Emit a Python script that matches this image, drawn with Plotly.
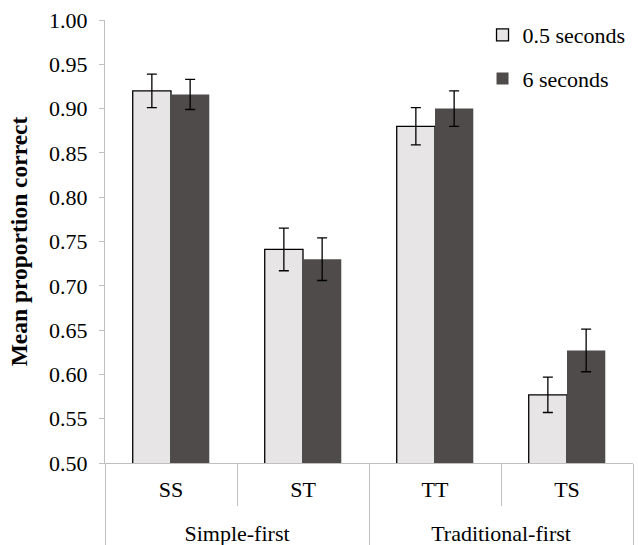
import plotly.graph_objects as go

groups = ["Simple-first", "Simple-first", "Traditional-first", "Traditional-first"]
conditions = ["SS", "ST", "TT", "TS"]
short_vals = [0.920, 0.741, 0.880, 0.577]
short_err = [0.019, 0.024, 0.021, 0.020]
long_vals = [0.916, 0.730, 0.900, 0.627]
long_err = [0.017, 0.024, 0.020, 0.024]
series_names = ["0.5 seconds", "6 seconds"]

FONT = "Liberation Serif"
GRAY = "#BFBFBF"

# invisible tiny second line under each condition label adds vertical room
# between the condition row and the group row of the multicategory axis
cond_labels = [c + "<br><span style='font-size:1px'>\u00a0</span>" for c in conditions]

fig = go.Figure()
fig.add_trace(go.Bar(
    x=[groups, cond_labels], y=short_vals, name=series_names[0],
    marker=dict(color="#E7E5E6", line=dict(color="black", width=1.3)),
    error_y=dict(type="data", array=short_err, color="black", thickness=1.3, width=5),
    legendgroup="a",
))
fig.add_trace(go.Bar(
    x=[groups, cond_labels], y=long_vals, name=series_names[1],
    marker=dict(color="#4F4B4B", line=dict(color="#4F4B4B", width=0)),
    error_y=dict(type="data", array=long_err, color="black", thickness=1.3, width=5),
    legendgroup="b",
))

fig.update_layout(
    template="none",
    width=638, height=545,
    margin=dict(l=105, r=5, t=19.5, b=82, pad=0),
    paper_bgcolor="white", plot_bgcolor="white",
    font=dict(family=FONT, size=22, color="black"),
    barmode="group", bargap=0.42, bargroupgap=0,
    showlegend=True,
    legend=dict(x=0.715, y=1.0135, xanchor="left", yanchor="top",
                bgcolor="rgba(0,0,0,0)", font=dict(family=FONT, size=22, color="black"),
                traceorder="grouped", tracegroupgap=12, itemwidth=30),
)
fig.update_xaxes(
    type="multicategory", automargin=False, showline=True, linecolor=GRAY, linewidth=1,
    showgrid=False, ticks="outside", tickson="boundaries", ticklen=42,
    tickcolor=GRAY, tickwidth=1, ticklabelstandoff=7,
    showdividers=True, dividercolor=GRAY, dividerwidth=1,
    tickfont=dict(family=FONT, size=22, color="black"),
)
fig.update_yaxes(
    automargin=False,
    range=[0.5, 1.0], dtick=0.05, tickformat=".2f",
    showline=True, linecolor=GRAY, linewidth=1, showgrid=False, zeroline=False,
    ticks="outside", ticklen=5, tickcolor=GRAY, tickwidth=1, ticklabelstandoff=7,
    tickfont=dict(family=FONT, size=22, color="black"),
    title=dict(text="<b>Mean proportion correct</b>", standoff=14,
               font=dict(family=FONT, size=23.5, color="black")),
)

fig.write_html("out.html", config={"displayModeBar": False},
               post_script="document.body.style.margin='0';")
